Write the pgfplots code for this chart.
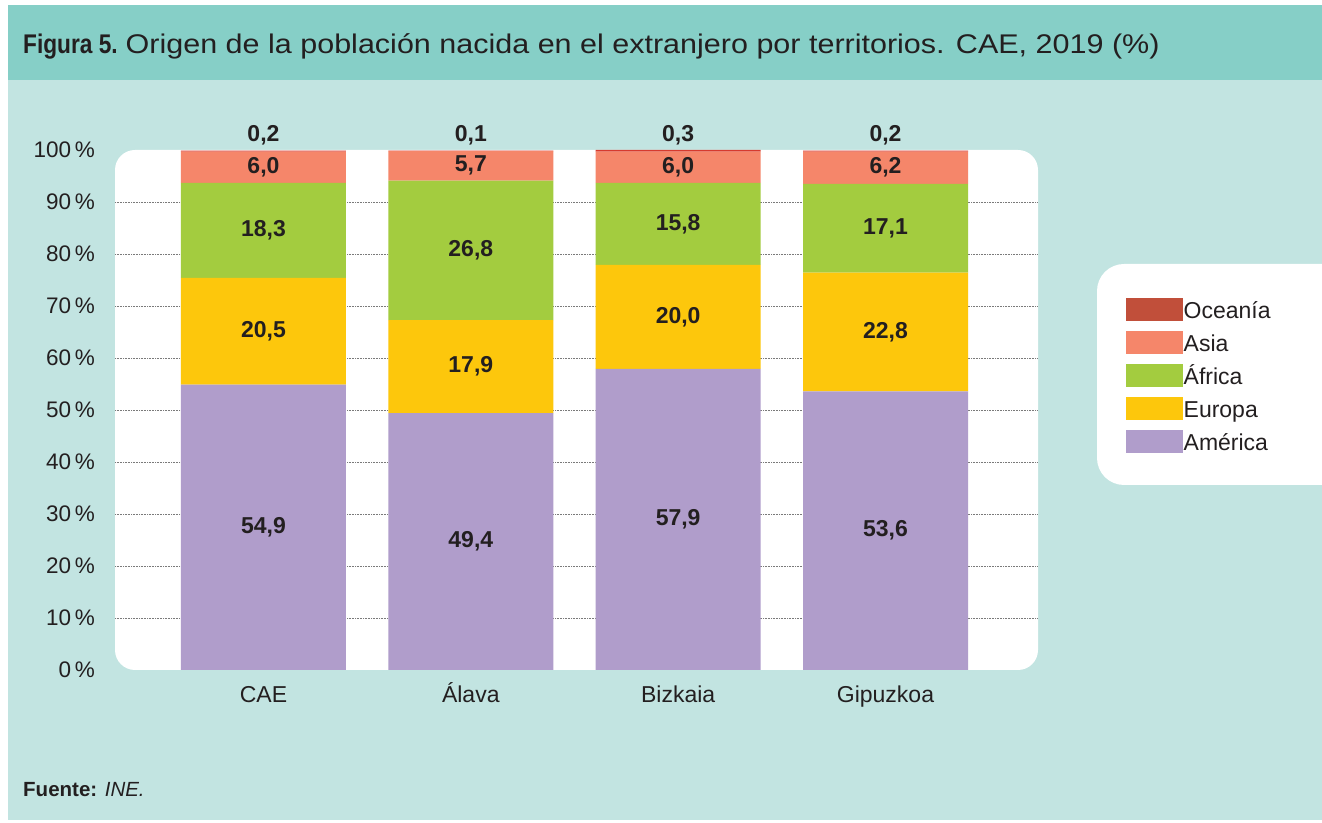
\documentclass[border=0pt]{standalone}
\usepackage{fontspec}
\setmainfont{Liberation Sans}
\usepackage{graphicx}
\usepackage{pgfplots}
\pgfplotsset{compat=1.18}
\usepackage{pgfplotstable}

\definecolor{header}{HTML}{86CFC7}
\definecolor{body}{HTML}{C2E4E1}
\definecolor{ame}{HTML}{B09DCB}
\definecolor{eur}{HTML}{FDC70C}
\definecolor{afr}{HTML}{A3CC3F}
\definecolor{asi}{HTML}{F5866A}
\definecolor{oce}{HTML}{D63A2E}
\definecolor{oceleg}{HTML}{C14F3A}
\definecolor{txt}{HTML}{231F20}
\definecolor{gridc}{HTML}{7A7A7A}

\pgfplotstableread{
x ame eur afr asi oce
0 54.9 20.5 18.3 6.0 0.2
1 49.4 17.9 26.8 5.7 0.1
2 57.9 20.0 15.8 6.0 0.3
3 53.6 22.8 17.1 6.2 0.2
}\data

\begin{document}
\begin{tikzpicture}
\useasboundingbox (0pt,0pt) rectangle (1322pt,822pt);
\begin{scope}
\clip (0pt,0pt) rectangle (1322pt,822pt);
\fill[white] (0pt,0pt) rectangle (1322pt,822pt);
\fill[body] (8pt,2pt) rectangle (1322pt,742pt);
\fill[header] (8pt,742pt) rectangle (1322pt,817pt);
\fill[white, rounded corners=20pt] (115pt,152pt) rectangle (1038pt,672pt);
\fill[white, rounded corners=27pt] (1097pt,337pt) rectangle (1380pt,558pt);
\end{scope}

\node[anchor=base west, inner sep=0pt, text=txt, font=\fontsize{27}{30}\selectfont] at (23pt,768.7pt)
  {\scalebox{0.84}[1]{\bfseries Figura 5.}\hspace{8pt}\scalebox{1.13}[1]{Origen de la población nacida en el extranjero por territorios. CAE, 2019 (\%)}};
\node[anchor=base west, inner sep=0pt, text=txt, font=\fontsize{20.5}{24}\selectfont] at (23pt,26pt)
  {\textbf{Fuente:} \textit{INE.}};

\begin{axis}[
  at={(115pt,152pt)}, anchor=south west, scale only axis,
  width=923pt, height=520pt,
  ybar stacked, bar width=165pt,
  xmin=-0.716, xmax=3.7355, ymin=0, ymax=100,
  axis line style={draw=none}, major tick length=0pt, tick style={draw=none},
  xtick={0,1,2,3}, xticklabels={CAE,Álava,Bizkaia,Gipuzkoa},
  xticklabel style={anchor=base, inner sep=0pt, yshift=-32pt, font=\fontsize{23}{26}\selectfont, text=txt},
  ytick={0,10,...,100},
  yticklabel={\pgfmathprintnumber{\tick}\,\%},
  yticklabel style={anchor=east, inner sep=0pt, xshift=-20pt, font=\fontsize{22.5}{26}\selectfont, text=txt},
  /pgf/number format/assume math mode=true,
  extra y ticks={10,20,...,90}, extra y tick labels={},
  extra y tick style={grid=major, grid style={gridc, line width=0.8pt, dash pattern=on 0.8pt off 0.8pt}},
  clip=false,
  legend cell align=left,
  legend style={at={(1.0954,0.7154)}, anchor=north west, draw=none, fill=none, inner sep=0pt,
    font=\fontsize{23}{26}\selectfont, text=txt, row sep=6.3pt,
    nodes={inner sep=1pt, text height=18pt, text depth=5pt},
    /tikz/every even column/.append style={column sep=3pt}},
]
\addlegendimage{legend image code/.code={\fill[oceleg] (0pt,-8.2pt) rectangle (56pt,14pt);}}
\addlegendentry{Oceanía}
\addlegendimage{legend image code/.code={\fill[asi] (0pt,-8.2pt) rectangle (56pt,14pt);}}
\addlegendentry{Asia}
\addlegendimage{legend image code/.code={\fill[afr] (0pt,-8.2pt) rectangle (56pt,14pt);}}
\addlegendentry{África}
\addlegendimage{legend image code/.code={\fill[eur] (0pt,-8.2pt) rectangle (56pt,14pt);}}
\addlegendentry{Europa}
\addlegendimage{legend image code/.code={\fill[ame] (0pt,-8.2pt) rectangle (56pt,14pt);}}
\addlegendentry{América}

\addplot[fill=ame, draw=none] table[x=x, y=ame] {\data};
\addplot[fill=eur, draw=none] table[x=x, y=eur] {\data};
\addplot[fill=afr, draw=none] table[x=x, y=afr] {\data};
\addplot[fill=asi, draw=none] table[x=x, y=asi] {\data};
\addplot[fill=oce, draw=none] table[x=x, y=oce] {\data};
\end{axis}

\begin{axis}[
  at={(115pt,152pt)}, anchor=south west, scale only axis,
  width=923pt, height=520pt,
  xmin=-0.716, xmax=3.7355, ymin=0, ymax=100,
  hide axis, clip=false,
  /pgf/number format/assume math mode=true,
  point meta=explicit,
  nodes near coords={\pgfmathprintnumber[use comma,fixed,fixed zerofill,precision=1]{\pgfplotspointmeta}},
  every node near coord/.append style={font=\fontsize{23}{26}\selectfont\bfseries, text=txt, inner sep=0pt, anchor=center},
]
\addplot[draw=none] table[x=x, y expr=\thisrow{ame}/2, meta=ame] {\data};
\addplot[draw=none] table[x=x, y expr=\thisrow{ame}+\thisrow{eur}/2, meta=eur] {\data};
\addplot[draw=none] table[x=x, y expr=\thisrow{ame}+\thisrow{eur}+\thisrow{afr}/2, meta=afr] {\data};
\addplot[draw=none] table[x=x, y expr=\thisrow{ame}+\thisrow{eur}+\thisrow{afr}+\thisrow{asi}/2, meta=asi] {\data};
\addplot[draw=none, every node near coord/.append style={anchor=south, yshift=5pt}]
  table[x=x, y expr=\thisrow{ame}+\thisrow{eur}+\thisrow{afr}+\thisrow{asi}+\thisrow{oce}, meta=oce] {\data};
\end{axis}
\end{tikzpicture}
\end{document}
